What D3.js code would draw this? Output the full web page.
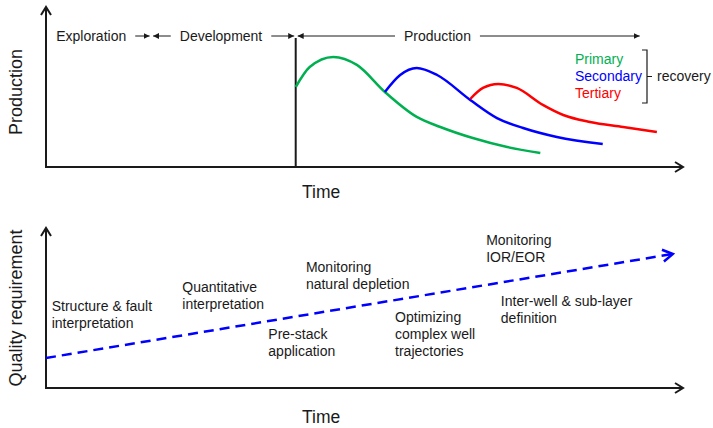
<!DOCTYPE html>
<html><head><meta charset="utf-8">
<script src="https://cdn.jsdelivr.net/npm/d3@7"></script>
<style>
html,body{margin:0;padding:0;background:#fff;}
svg{display:block;font-family:"Liberation Sans",Arial,sans-serif;}
</style></head>
<body>
<svg id="c" width="713" height="428"></svg>
<script>
// ---- data ----
const phaseNames = ["Exploration", "Development", "Production"];
const phaseStart = [0, 16.5, 39.2];
const phaseEnd = [16.5, 39.2, 93.2];
const phaseLabelAt = [1.6, 21.0, 56.2];

const primaryT = [39.2, 41.4, 45.1, 48.8, 53.2, 58.2, 61.9, 67.0, 72.4, 77.6];
const primaryP = [50, 62.5, 68.8, 63.8, 46.9, 31.3, 25, 18.1, 12.5, 8.8];
const secondaryT = [53.2, 55.6, 58.2, 61.4, 66.6, 70.8, 74.9, 80.2, 87.4];
const secondaryP = [46.9, 57.5, 61.9, 57.5, 41.9, 30.6, 24.4, 18.8, 14.4];
const tertiaryT = [66.6, 68.6, 71.0, 73.9, 78.0, 81.2, 85.4, 90.6, 95.9];
const tertiaryP = [42.5, 49.4, 51.9, 49.4, 38.8, 32.5, 28.1, 25, 21.9];

const recoveryNames = ["Primary", "Secondary", "Tertiary"];
const recoveryColors = ["#00b050", "#0000ff", "#ff0000"];

const qualityT = [0, 98.4];
const qualityQ = [18.75, 83.75];

const noteLines = [
  ["Structure & fault", "interpretation"],
  ["Quantitative", "interpretation"],
  ["Monitoring", "natural depletion"],
  ["Pre-stack", "application"],
  ["Optimizing", "complex well", "trajectories"],
  ["Monitoring", "IOR/EOR"],
  ["Inter-well & sub-layer", "definition"]
];
const noteT = [0.9, 21.4, 40.8, 34.9, 54.8, 69.1, 71.4];
const noteQ = [51.25, 63.1, 75.6, 33.75, 44.4, 92.5, 54.4];

// ---- drawing ----
const svg = d3.select("#c");
const ink = "#1a1a1a";
const x = d3.scaleLinear().domain([0, 100]).range([46, 683]);
const yTop = d3.scaleLinear().domain([0, 100]).range([167, 7]);
const yBot = d3.scaleLinear().domain([0, 100]).range([388, 228]);

const defs = svg.append("defs");
defs.append("marker").attr("id", "tri").attr("viewBox", "0 0 10 10")
  .attr("refX", 10).attr("refY", 5).attr("markerWidth", 6).attr("markerHeight", 6)
  .attr("markerUnits", "userSpaceOnUse").attr("orient", "auto")
  .append("path").attr("d", "M0,0L10,5L0,10z").attr("fill", ink);

function chevron(g, x1, y1, x2, y2, color, w, len, half) {
  const a = Math.atan2(y2 - y1, x2 - x1);
  const p1 = [x2 - len * Math.cos(a) + half * Math.sin(a), y2 - len * Math.sin(a) - half * Math.cos(a)];
  const p2 = [x2 - len * Math.cos(a) - half * Math.sin(a), y2 - len * Math.sin(a) + half * Math.cos(a)];
  g.append("path").attr("d", `M${p1}L${x2},${y2}L${p2}`).attr("fill", "none")
    .attr("stroke", color).attr("stroke-width", w).attr("stroke-linejoin", "miter");
}

function axes(y) {
  const g = svg.append("g");
  const x0 = x(0), y0 = y(0);
  g.append("line").attr("x1", x0).attr("y1", y0).attr("x2", x0).attr("y2", y(100) + 1)
    .attr("stroke", ink).attr("stroke-width", 2);
  g.append("line").attr("x1", x0 - 1).attr("y1", y0).attr("x2", x(100) - 1).attr("y2", y0)
    .attr("stroke", ink).attr("stroke-width", 2);
  chevron(g, x0, y0, x0, y(100), ink, 2, 8, 5);
  chevron(g, x0, y0, x(100), y0, ink, 2, 8, 5);
}
axes(yTop);
axes(yBot);

// axis titles
svg.append("text").attr("x", 302).attr("y", 192).attr("dy", "0.35em")
  .attr("font-size", 17.5).attr("fill", ink).text("Time");
svg.append("text").attr("x", 302).attr("y", 417).attr("dy", "0.35em")
  .attr("font-size", 17.5).attr("fill", ink).text("Time");
svg.append("text").attr("transform", "translate(16,92) rotate(-90)").attr("text-anchor", "middle")
  .attr("dy", "0.35em").attr("font-size", 18).attr("fill", ink).text("Production");
svg.append("text").attr("transform", "translate(16,308) rotate(-90)").attr("text-anchor", "middle")
  .attr("dy", "0.35em").attr("font-size", 18).attr("fill", ink).text("Quality requirement");

// production start line
svg.append("line").attr("x1", x(phaseStart[2])).attr("x2", x(phaseStart[2]))
  .attr("y1", yTop(0)).attr("y2", 38).attr("stroke", ink).attr("stroke-width", 2);

// phase labels with arrows
const phaseY = 36;
phaseNames.forEach((name, i) => {
  const t = svg.append("text").attr("x", x(phaseLabelAt[i])).attr("y", phaseY).attr("dy", "0.35em")
    .attr("font-size", 14).attr("fill", ink).text(name);
  const tx0 = x(phaseLabelAt[i]);
  const tx1 = tx0 + t.node().getComputedTextLength();
  if (i > 0) {
    svg.append("line").attr("x1", tx0 - 9).attr("y1", phaseY).attr("x2", x(phaseStart[i]) + 2).attr("y2", phaseY)
      .attr("stroke", ink).attr("stroke-width", 1).attr("marker-end", "url(#tri)");
  }
  svg.append("line").attr("x1", tx1 + 9).attr("y1", phaseY).attr("x2", x(phaseEnd[i]) - (i < 2 ? 1.5 : 0)).attr("y2", phaseY)
    .attr("stroke", ink).attr("stroke-width", 1).attr("marker-end", "url(#tri)");
});

// recovery curves
const line = d3.line().x(d => x(d[0])).y(d => yTop(d[1])).curve(d3.curveMonotoneX);
[[primaryT, primaryP], [secondaryT, secondaryP], [tertiaryT, tertiaryP]].forEach((s, i) => {
  svg.append("path").datum(d3.zip(s[0], s[1])).attr("d", line)
    .attr("fill", "none").attr("stroke", recoveryColors[i]).attr("stroke-width", 2.5);
});

// legend
recoveryNames.forEach((n, i) => {
  svg.append("text").attr("x", 575).attr("y", 59 + i * 17).attr("dy", "0.35em")
    .attr("font-size", 14).attr("fill", recoveryColors[i]).text(n);
});
svg.append("path").attr("d", "M642,50H647V103H642M647,76.5H652").attr("fill", "none")
  .attr("stroke", ink).attr("stroke-width", 1.2);
svg.append("text").attr("x", 657).attr("y", 76.5).attr("dy", "0.35em")
  .attr("font-size", 14).attr("fill", ink).text("recovery");

// quality trend
const qx1 = x(qualityT[0]), qy1 = yBot(qualityQ[0]), qx2 = x(qualityT[1]), qy2 = yBot(qualityQ[1]);
svg.append("line").attr("x1", qx1).attr("y1", qy1).attr("x2", qx2 - 2).attr("y2", qy2 + 0.3)
  .attr("stroke", "#0000ff").attr("stroke-width", 2.5).attr("stroke-dasharray", "10,6");
chevron(svg, qx1, qy1, qx2, qy2, "#0000ff", 2.5, 10, 6);

// notes
noteLines.forEach((lines, i) => {
  const t = svg.append("text").attr("x", x(noteT[i])).attr("y", yBot(noteQ[i]))
    .attr("font-size", 14).attr("fill", ink);
  lines.forEach((l, j) => {
    t.append("tspan").attr("x", x(noteT[i])).attr("dy", j === 0 ? "0.35em" : 17).text(l);
  });
});
</script>
</body></html>
